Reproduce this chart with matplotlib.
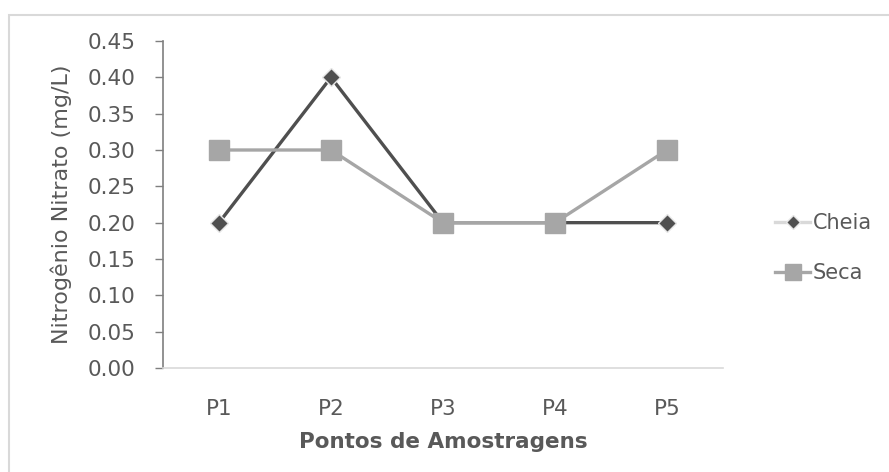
import matplotlib
matplotlib.use("Agg")
import matplotlib.pyplot as plt
from matplotlib.lines import Line2D
from matplotlib.patches import Rectangle

# Dados: nitrogênio nitrato por ponto de amostragem
pontos = ["P1", "P2", "P3", "P4", "P5"]
cheia = [0.20, 0.40, 0.20, 0.20, 0.20]
seca = [0.30, 0.30, 0.20, 0.20, 0.30]
yticks = [0.00, 0.05, 0.10, 0.15, 0.20, 0.25, 0.30, 0.35, 0.40, 0.45]

TXT = "#595959"
C_CHEIA = "#4f4f4f"
C_SECA = "#a6a6a6"
GRID = "#d9d9d9"

plt.rcParams["font.family"] = ["DejaVu Sans"]

W, H = 889, 472
fig = plt.figure(figsize=(W / 100, H / 100), dpi=100)
ax = fig.add_axes([163 / W, 1 - 368 / H, (723 - 163) / W, (368 - 41) / H])

x = list(range(len(pontos)))
# linhas primeiro, marcadores por cima (Seca sobre Cheia)
ax.plot(x, cheia, color=C_CHEIA, lw=2.4, zorder=2)
ax.plot(x, seca, color=C_SECA, lw=2.4, zorder=3)
ax.plot(x, cheia, ls="none", marker="D", markersize=9,
        markerfacecolor=C_CHEIA, markeredgecolor="#e6e6e6", markeredgewidth=1.0,
        zorder=4)
ax.plot(x, seca, ls="none", marker="s", markersize=14,
        markerfacecolor=C_SECA, markeredgecolor=C_SECA, zorder=5)

ax.set_xlim(-0.5, 4.5)
ax.set_ylim(0, 0.45)
ax.set_xticks(x)
ax.set_xticklabels(pontos)
ax.set_yticks(yticks)
ax.set_yticklabels([f"{v:.2f}" for v in yticks])

ax.tick_params(axis="y", direction="out", length=6, width=1, color="#7f7f7f",
               labelsize=15.5, labelcolor=TXT, pad=14)
ax.tick_params(axis="x", length=0, labelsize=15.5, labelcolor=TXT, pad=22)

for side in ("top", "right"):
    ax.spines[side].set_visible(False)
ax.spines["left"].set_color("#7f7f7f")
ax.spines["left"].set_linewidth(1.2)
ax.spines["bottom"].set_color(GRID)
ax.spines["bottom"].set_linewidth(1.2)

ax.set_xlabel("Pontos de Amostragens", fontsize=15.5, fontweight="bold",
              color=TXT, labelpad=10)
ax.set_ylabel("Nitrogênio Nitrato (mg/L)", fontsize=16, color=TXT, labelpad=11)

handles = [
    Line2D([], [], color=GRID, lw=2.4, marker="D", markersize=7,
           markerfacecolor=C_CHEIA, markeredgecolor="#e6e6e6"),
    Line2D([], [], color=C_SECA, lw=2.4, marker="s", markersize=12,
           markerfacecolor=C_SECA, markeredgecolor=C_SECA),
]
fig.legend(handles, ["Cheia", "Seca"], loc="center left",
           bbox_to_anchor=(775 / W, 1 - 248 / H), frameon=False,
           fontsize=15, labelcolor=TXT, handlelength=1.7, handletextpad=0.1,
           labelspacing=1.45, borderpad=0, borderaxespad=0)

# Moldura da área do gráfico
fig.patches.append(Rectangle((9 / W, -0.05), 1.1, 1 - 15 / H + 0.05,
                             transform=fig.transFigure, fill=False,
                             edgecolor=GRID, lw=1.5))

fig.savefig("out.png", dpi=100)
